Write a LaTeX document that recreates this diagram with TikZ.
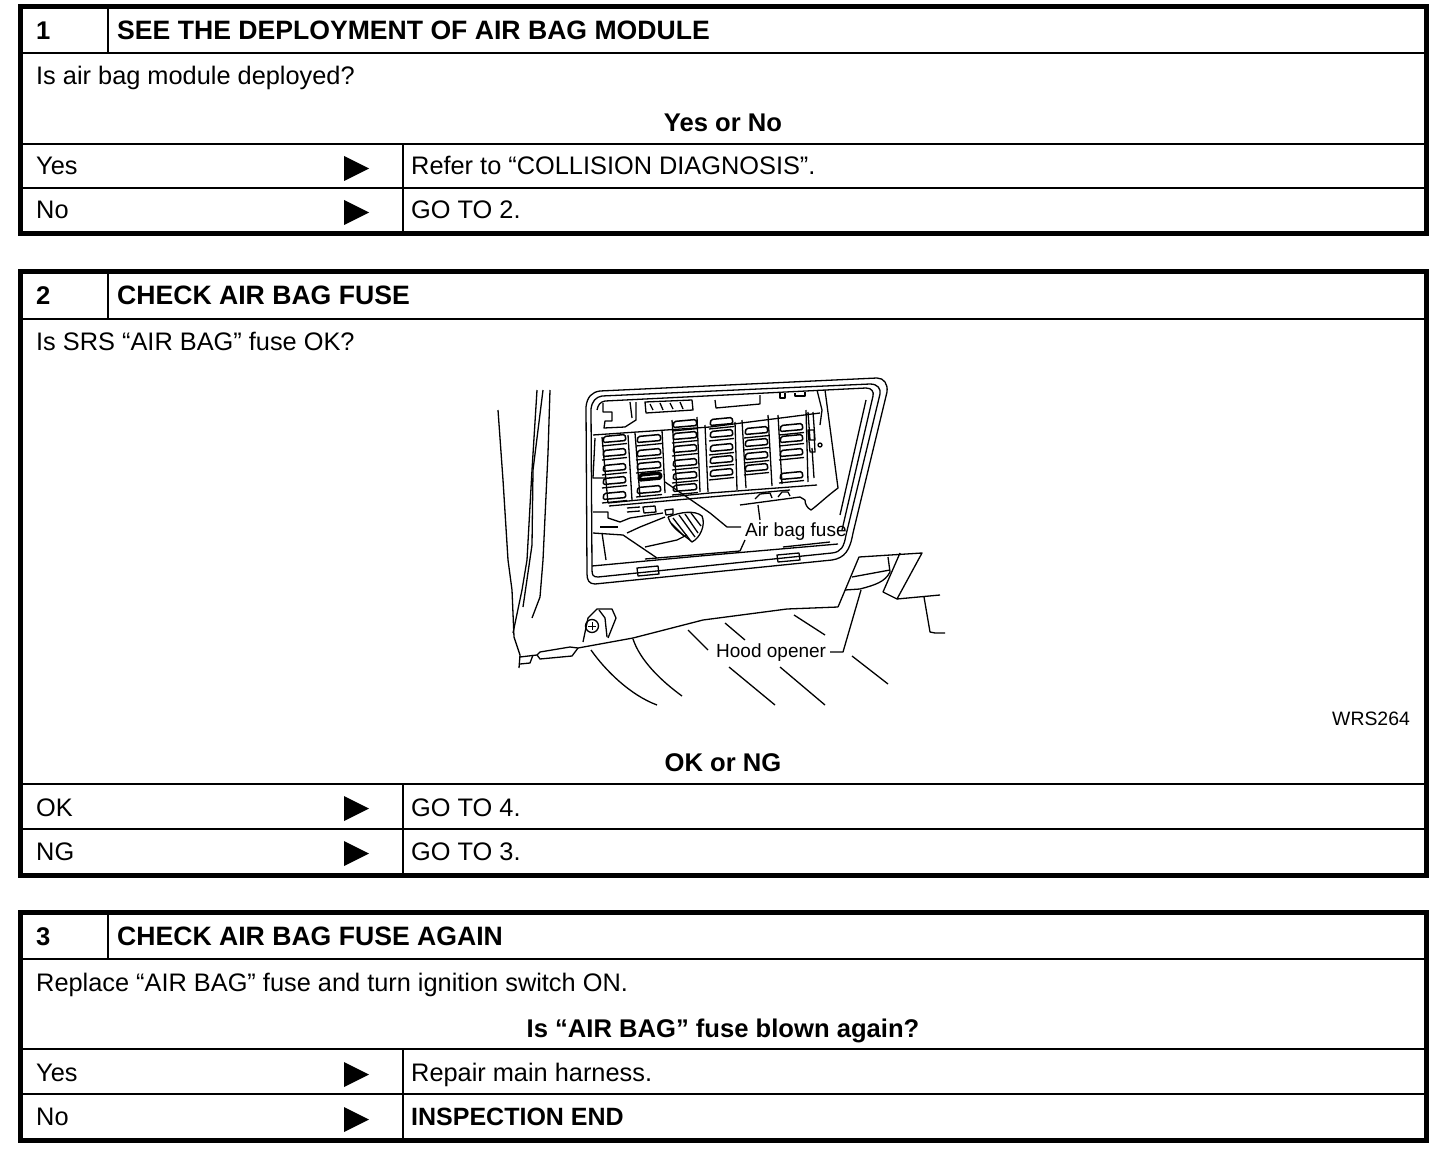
\documentclass[tikz,border=0pt]{standalone}
\usepackage{fontspec}
\setmainfont{Liberation Sans}
\newcommand\fz[3]{\draw[ill,line width=1.5pt,rounded corners=1.5pt] (#1,#2+4.5) -- (#1+#3,#2+2.5) -- (#1+#3-1,#2-3.5) -- (#1+1,#2-1.5) -- cycle;
 \draw[ill] (#1-1,#2+8) -- (#1+#3+1,#2+5.5);}
\tikzset{x=1pt,y=-1pt,
 frame/.style={line width=5pt,black},
 rule/.style={line width=2.9pt,black},
 txt/.style={anchor=base west,inner sep=0pt,font=\fontsize{25.35}{28}\selectfont},
 btxt/.style={txt,font=\fontsize{25.6}{28}\selectfont\bfseries},
 ttl/.style={txt,font=\fontsize{26.6}{28}\selectfont\bfseries},
 ctr/.style={btxt,anchor=base},
 lab/.style={anchor=base west,inner sep=0pt,font=\fontsize{19}{22}\selectfont},
 tri/.style={fill=black},
 ill/.style={line width=1.3pt,black,line join=round},
 illt/.style={line width=1.6pt,black,line join=round}}
\begin{document}
\begin{tikzpicture}
\useasboundingbox (0,0) rectangle (1456,1158);
\fill[white] (0,0) rectangle (1456,1158);
% box 1
\draw[frame] (20.5,6.5) rectangle (1426.5,234);
\draw[rule] (20,53) -- (1427,53) (108,6) -- (108,53) (20,144) -- (1427,144) (20,188) -- (1427,188) (403,144) -- (403,234);
\node[btxt] (n1) at (36,40) {1};
\node[ttl] (t1) at (117,40) {SEE THE DEPLOYMENT OF AIR BAG MODULE};
\node[txt] (q1) at (36,85) {Is air bag module deployed?};
\node[ctr] (c1) at (723,131.5) {Yes or No};
\node[txt] (a1) at (36,175) {Yes};
\node[txt] (b1) at (36,219) {No};
\node[txt] (r1) at (411,175) {Refer to “COLLISION DIAGNOSIS”.};
\node[txt] (s1) at (411,219) {GO TO 2.};
\fill[tri] (344,156) -- (369,168.5) -- (344,181) -- cycle;
\fill[tri] (344,200) -- (369,212.5) -- (344,225) -- cycle;
% box 2
\draw[frame] (20.5,272) rectangle (1426.5,875);
\draw[rule] (20,319) -- (1427,319) (108,272) -- (108,319) (20,784) -- (1427,784) (20,829) -- (1427,829) (403,784) -- (403,875);
\node[btxt] (n2) at (36,305) {2};
\node[ttl] (t2) at (117,305) {CHECK AIR BAG FUSE};
\node[txt] (q2) at (36,350) {Is SRS “AIR BAG” fuse OK?};
\node[ctr] (c2) at (723,771) {OK or NG};
\node[txt] (a2) at (36,816) {OK};
\node[txt] (b2) at (36,860) {NG};
\node[txt] (r2) at (411,816) {GO TO 4.};
\node[txt] (s2) at (411,860) {GO TO 3.};
\fill[tri] (344,796) -- (369,808.5) -- (344,821) -- cycle;
\fill[tri] (344,841) -- (369,853.5) -- (344,866) -- cycle;
% box 3
\draw[frame] (20.5,912.5) rectangle (1426.5,1140);
\draw[rule] (20,959) -- (1427,959) (108,912) -- (108,959) (20,1049) -- (1427,1049) (20,1094) -- (1427,1094) (403,1049) -- (403,1140);
\node[btxt] (n3) at (36,945) {3};
\node[ttl] (t3) at (117,945) {CHECK AIR BAG FUSE AGAIN};
\node[txt] (q3) at (36,991) {Replace “AIR BAG” fuse and turn ignition switch ON.};
\node[ctr] (c3) at (723,1037) {Is “AIR BAG” fuse blown again?};
\node[txt] (a3) at (36,1081) {Yes};
\node[txt] (b3) at (36,1125) {No};
\node[txt] (r3) at (411,1081) {Repair main harness.};
\node[txt,font=\fontsize{25}{28}\selectfont\bfseries] (s3) at (411,1125) {INSPECTION END};
\fill[tri] (344,1062) -- (369,1074.5) -- (344,1087) -- cycle;
\fill[tri] (344,1107) -- (369,1119.5) -- (344,1132) -- cycle;
% illustration: pillar
\draw[ill] (498,410) -- (503,480) -- (508,560) -- (512,590) -- (514,637) -- (520,655) -- (519,668);
\draw[ill] (537,390) -- (532,470) -- (527,560) -- (522,590) -- (513,633);
\draw[ill] (543,390) -- (533,470) -- (532,545) -- (523,607);
\draw[ill] (550,390) -- (548,453) -- (543,560) -- (540,597) -- (532,618);
% window frame
\draw[ill] (586,407) .. controls (587,397) and (592,392) .. (600,391) -- (877,378) .. controls (884,378) and (888,384) .. (887,392) -- (853,533) .. controls (850,550) and (845,558) .. (832,560) -- (595,584) .. controls (589,584) and (587,580) .. (587,574) -- cycle;
\draw[ill] (591,409) .. controls (592,401) and (596,397) .. (602,396) -- (870,384) .. controls (878,384) and (881,389) .. (880,394) -- (846,535) .. controls (844,547) and (841,552) .. (832,553) -- (598,577) .. controls (593,577) and (592,575) .. (592,570) -- cycle;
\draw[ill] (597,410) .. controls (598,405) and (600,402) .. (605,401) -- (866,388) .. controls (872,388) and (874,392) .. (873,396) -- (842,530);
% tabs and lower rails
\draw[ill] (637,568) -- (658,566) -- (659,574) -- (638,576) -- cycle;
\draw[ill] (777,555) -- (799,553) -- (800,560) -- (778,562) -- cycle;
\draw[ill] (592,566) -- (700,556) -- (838,544);
\draw[ill] (645,559) -- (740,551) -- (745,540);
\draw[ill] (783,547) -- (830,542);
% upper terminal strip
\draw[ill] (603,403) -- (603,412) -- (612,412) -- (612,421) -- (605,421) -- (604,428) -- (625,427) -- (636,420) -- (636,402);
\draw[ill] (630,402) -- (632,418);
\draw[ill] (645,402) -- (692,400) -- (693,410) -- (646,413) -- cycle;
\draw[ill] (650,404) -- (653,410) (660,403) -- (663,410) (670,403) -- (673,409) (680,402) -- (683,409);
\draw[ill] (715,400) -- (716,408) -- (760,404) -- (760,395);
\draw[ill] (780,393) -- (780,398) -- (785,398) -- (785,393) (795,393) -- (795,396) -- (805,396) -- (805,392);
\draw[ill] (817,390) -- (822,410) -- (820,425);
\draw[ill] (825,390) -- (838,488) .. controls (826,497) and (818,505) .. (811,510) .. controls (807,508) and (805,504) .. (805,500);
% fuse panel
\draw[ill] (593,435) -- (710,427) -- (820,413);
\draw[ill] (595,438) -- (593,478) -- (605,478);
\draw[ill] (602,437) -- (608,503) (628,435) -- (632,500);
\draw[ill] (635,433) -- (640,497) (662,430) -- (665,493);
\draw[ill] (672,420) -- (677,490) (697,417) -- (700,492);
\draw[ill] (705,425) -- (708,492) (735,422) -- (737,490);
\draw[ill] (742,420) -- (746,488) (768,415) -- (772,486);
\draw[ill] (778,415) -- (782,484) (806,410) -- (808,482);
\draw[ill] (608,503) -- (710,493) -- (817,485);
\draw[ill] (609,506) -- (710,497) -- (790,490);
\draw[ill] (808,412) -- (810,440) -- (815,440) -- (813,412) (808,430) -- (814,430) -- (815,452) -- (810,452) -- cycle;
\draw[ill] (812,448) -- (814,478) (820,445) circle (2);
\foreach \y in {438,452,467,480,495} {\fz{603}{\y}{23}}
\foreach \y in {438,452,465,489} {\fz{637}{\y}{24}}
\draw[illt,line width=3.5pt,rounded corners=1.5pt] (639,480) -- (661,478) -- (660,473) -- (640,475) -- cycle;
\foreach \y in {423,435,448,462,475,487} {\fz{673}{\y}{24}}
\foreach \y in {421,433,447,459,472} {\fz{710}{\y}{23}}
\foreach \y in {430,442,455,467} {\fz{745}{\y}{23}}
\foreach \y in {427,438,452,475} {\fz{780}{\y}{23}}
% below panel
\draw[ill] (593,512) -- (608,512) -- (608,518) -- (620,522) -- (630,518) -- (663,513);
\draw[ill] (643,507) -- (655,506) -- (656,512) -- (644,513) -- cycle (665,510) -- (673,509) -- (673,514) -- (666,515) -- cycle (627,508) -- (640,507) (627,512) -- (640,511);
\draw[ill] (740,505) -- (800,497) -- (805,500);
\draw[ill] (755,499) -- (760,494) -- (770,493) -- (772,498) (778,497) -- (782,492) -- (788,492) -- (790,496);
\draw[ill] (600,527) -- (618,527);
\draw[ill] (593,533) -- (623,535) -- (657,558);
\draw[ill] (627,533) -- (640,527) -- (665,517);
\draw[ill] (645,547) -- (677,540) -- (687,535);
\draw[ill] (602,533) -- (606,560);
\draw[ill] (760,520) -- (758,505);
\draw[ill] (840,515) -- (866,400);
% harness
\draw[ill] (668,517) .. controls (680,512) and (695,510) .. (702,516) .. controls (706,525) and (700,538) .. (692,542) .. controls (685,535) and (672,530) .. (668,517);
\draw[ill] (673,518) -- (690,540) (679,515) -- (695,537) (685,514) -- (698,533) (691,513) -- (701,526) (671,523) -- (684,536);
% leader to fuse
\draw[ill] (665,482) -- (710,513) -- (727,527) -- (741,527);
% opener
\draw[ill] (838,607) -- (859,557) -- (922,553) -- (897,599) -- (883,592) -- (900,553);
\draw[ill] (888,557) -- (890,572) .. controls (885,582) and (875,585) .. (860,589) -- (845,590);
\draw[ill] (852,577) -- (890,570);
\draw[ill] (861,590) -- (843,652) -- (830,652);
\draw[ill] (897,599) -- (940,595);
\draw[ill] (924,597) -- (930,632) -- (935,633) -- (945,633);
% sill
\draw[ill] (838,607) -- (787,609) -- (703,620) -- (633,638) -- (578,648) -- (570,647) -- (540,652) -- (537,655) -- (520,657);
\draw[ill] (537,655) -- (540,659) -- (572,656) -- (578,648);
\draw[ill] (533,655) -- (530,663) -- (520,664);
% bolt
\draw[ill] (583,642) -- (588,618) -- (597,609) -- (612,609) -- (616,618) -- (608,638);
\draw[ill] (599,610) -- (605,618) -- (607,637);
\draw[ill] (592,626) circle (6.5);
\draw[ill,line width=.9pt] (588,626) -- (596,626) (592,622) -- (592,630);
% floor hatch
\draw[ill] (591,650) .. controls (605,670) and (630,695) .. (657,705);
\draw[ill] (633,639) .. controls (640,660) and (660,680) .. (682,696);
\draw[ill] (688,630) -- (708,650);
\draw[ill] (725,623) -- (745,640);
\draw[ill] (794,615) -- (825,635);
\draw[ill] (729,667) -- (775,705);
\draw[ill] (780,667) -- (825,705);
\draw[ill] (852,656) -- (888,684);
% labels
\node[lab] (f) at (745,536) {Air bag fuse};
\node[lab] (h) at (716,657) {Hood opener};
\node[lab,font=\fontsize{19.4}{22}\selectfont] (w) at (1332,725) {WRS264};
\end{tikzpicture}
\end{document}
